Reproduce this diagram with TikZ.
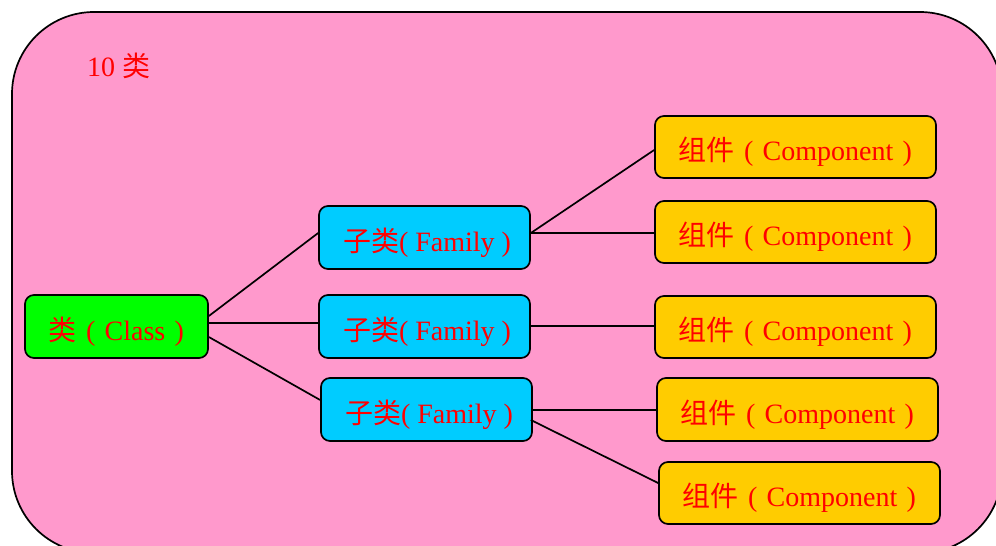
\documentclass[tikz,border=0pt]{standalone}
\usepackage{fontspec}
\setmainfont{Liberation Serif}
\newfontfamily\cjk{Noto Sans CJK SC}
\newcommand{\zh}[1]{{\cjk #1}}
\newcommand{\flp}{\makebox[1em]{(}}
\newcommand{\frp}{\makebox[1em]{)}}
\definecolor{bgpink}{HTML}{FF99CC}
\definecolor{famcyan}{HTML}{00CCFF}
\definecolor{comporange}{HTML}{FFCC00}
\definecolor{clsgreen}{HTML}{00FF00}
\begin{document}
\begin{tikzpicture}[x=1pt,y=-1pt,
  box/.style={draw=black, line width=1.7pt, rounded corners=9pt, text=red, inner sep=0pt, text height=27pt, text depth=0pt, font=\fontsize{28}{33}\selectfont},
  clsbox/.style={box, fill=clsgreen, minimum width=183pt, minimum height=63pt},
  fambox/.style={box, fill=famcyan, minimum width=211pt, minimum height=63pt},
  compbox/.style={box, fill=comporange, minimum width=281pt, minimum height=62pt},
  link/.style={draw=black, line width=1.7pt}]
\useasboundingbox (0,0) rectangle (996,546);
\begin{scope}
\clip (0,0) rectangle (996,546);
\draw[fill=bgpink, line width=1.7pt, rounded corners=82pt] (12,12) rectangle (1002,553);
\end{scope}
\node[anchor=base west, text=red, inner sep=0pt, font=\fontsize{28}{33}\selectfont] (title) at (87,76) {10 \zh{类}};
\node[clsbox] (cls) at (116.5,326.5) {\hspace*{9pt}\zh{类}\flp Class\frp};
\node[fambox] (f1) at (424.5,237.5) {\hspace*{5pt}\zh{子类}( Family )};
\node[fambox] (f2) at (424.5,326.5) {\hspace*{5pt}\zh{子类}( Family )};
\node[fambox] (f3) at (426.5,409.5) {\hspace*{5pt}\zh{子类}( Family )};
\node[compbox] (c1) at (795.5,147) {\hspace*{9pt}\zh{组件}\flp Component\frp};
\node[compbox] (c2) at (795.5,232) {\hspace*{9pt}\zh{组件}\flp Component\frp};
\node[compbox] (c3) at (795.5,327) {\hspace*{9pt}\zh{组件}\flp Component\frp};
\node[compbox, minimum height=63pt] (c4) at (797.5,409.5) {\hspace*{9pt}\zh{组件}\flp Component\frp};
\node[compbox] (c5) at (799.5,493) {\hspace*{9pt}\zh{组件}\flp Component\frp};
\draw[link] ([yshift=10.5pt]cls.east) -- ([yshift=4.5pt]f1.west);
\draw[link] ([yshift=3.5pt]cls.east) -- ([yshift=3.5pt]f2.west);
\draw[link] ([yshift=-10.5pt]cls.east) -- ([yshift=9.5pt]f3.west);
\draw[link] ([yshift=4.5pt]f1.east) -- ([yshift=-3pt]c1.west);
\draw[link] ([yshift=4.5pt]f1.east) -- ([yshift=-1pt]c2.west);
\draw[link] ([yshift=0.5pt]f2.east) -- ([yshift=1pt]c3.west);
\draw[link] ([yshift=-0.5pt]f3.east) -- ([yshift=-0.5pt]c4.west);
\draw[link] ([xshift=-2pt,yshift=-10.5pt]f3.east) -- ([yshift=10pt]c5.west);
\end{tikzpicture}
\end{document}
